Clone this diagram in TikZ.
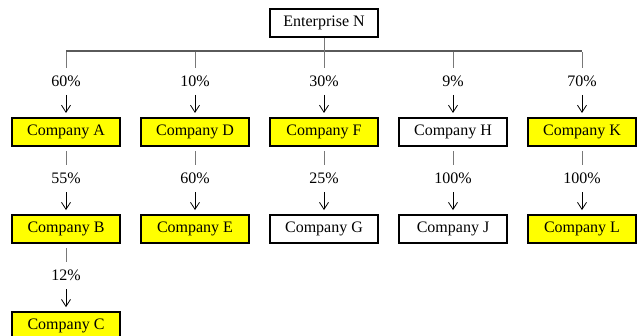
\documentclass[tikz,border=0pt]{standalone}
\usepackage{fontspec}
\setmainfont{Liberation Serif}
\definecolor{firmyellow}{RGB}{255,255,0}
\definecolor{busgray}{RGB}{90,90,90}
\definecolor{stubgray}{RGB}{120,120,120}
\usetikzlibrary{arrows.meta,positioning}

\begin{document}
\begin{tikzpicture}[x=1pt, y=1pt,
  every node/.style={font=\fontsize{16}{19}\selectfont},
  firm/.style={draw=black, line width=2.1pt, fill=white, minimum width=108pt, minimum height=28pt, inner sep=0pt},
  owned/.style={fill=firmyellow},
  pct/.style={minimum height=27pt, inner sep=0pt},
  stub/.style={stubgray, line width=0.8pt},
  link/.style={-{Straight Barb[length=7pt, width=9pt]}, line width=0.8pt, shorten >=4pt}]
\useasboundingbox (0,0) rectangle (642,335);
% Enterprise and the bus below it
\node[firm, line width=1.8pt] (N) at (324,312) {Enterprise N};
\coordinate (busL) at (66,284);
\coordinate (busR) at (582,284);
\draw[busgray, line width=1.3pt] (busL) -- (busR);
% First row
\node[firm, owned] (A) at (66,203) {Company A};
\node[firm, owned] (D) at (195,203) {Company D};
\node[firm, owned] (F) at (324,203) {Company F};
\node[firm] (H) at (453,203) {Company H};
\node[firm, owned] (K) at (582,203) {Company K};
\node[pct, above=22pt of A] (pA) {60\%};
\node[pct, above=22pt of D] (pD) {10\%};
\node[pct, above=22pt of F] (pF) {30\%};
\node[pct, above=22pt of H] (pH) {9\%};
\node[pct, above=22pt of K] (pK) {70\%};
\coordinate (bA) at (pA |- busL);
\coordinate (bD) at (pD |- busL);
\coordinate (bH) at (pH |- busL);
\coordinate (bK) at (pK |- busL);
\draw[stub, shorten <=1.5pt] (bA) -- (pA);
\draw[stub, shorten <=1.5pt] (bD) -- (pD);
\draw[stub] (N) -- (pF);
\draw[stub, shorten <=1.5pt] (bH) -- (pH);
\draw[stub, shorten <=1.5pt] (bK) -- (pK);
\draw[link] (pA) -- (A);
\draw[link] (pD) -- (D);
\draw[link] (pF) -- (F);
\draw[link] (pH) -- (H);
\draw[link] (pK) -- (K);
% Second row
\node[firm, owned, below=67pt of A] (B) {Company B};
\node[firm, owned, below=67pt of D] (E) {Company E};
\node[firm, below=67pt of F] (G) {Company G};
\node[firm, below=67pt of H] (J) {Company J};
\node[firm, owned, below=67pt of K] (L) {Company L};
\node[pct, above=22pt of B] (pB) {55\%};
\node[pct, above=22pt of E] (pE) {60\%};
\node[pct, above=22pt of G] (pG) {25\%};
\node[pct, above=22pt of J] (pJ) {100\%};
\node[pct, above=22pt of L] (pL) {100\%};
\draw[stub, shorten <=4pt] (A) -- (pB);
\draw[stub, shorten <=4pt] (D) -- (pE);
\draw[stub, shorten <=4pt] (F) -- (pG);
\draw[stub, shorten <=4pt] (H) -- (pJ);
\draw[stub, shorten <=4pt] (K) -- (pL);
\draw[link] (pB) -- (B);
\draw[link] (pE) -- (E);
\draw[link] (pG) -- (G);
\draw[link] (pJ) -- (J);
\draw[link] (pL) -- (L);
% Third row
\node[firm, owned, below=67pt of B] (C) {Company C};
\node[pct, above=22pt of C] (pC) {12\%};
\draw[stub, shorten <=4pt] (B) -- (pC);
\draw[link] (pC) -- (C);
\end{tikzpicture}
\end{document}
